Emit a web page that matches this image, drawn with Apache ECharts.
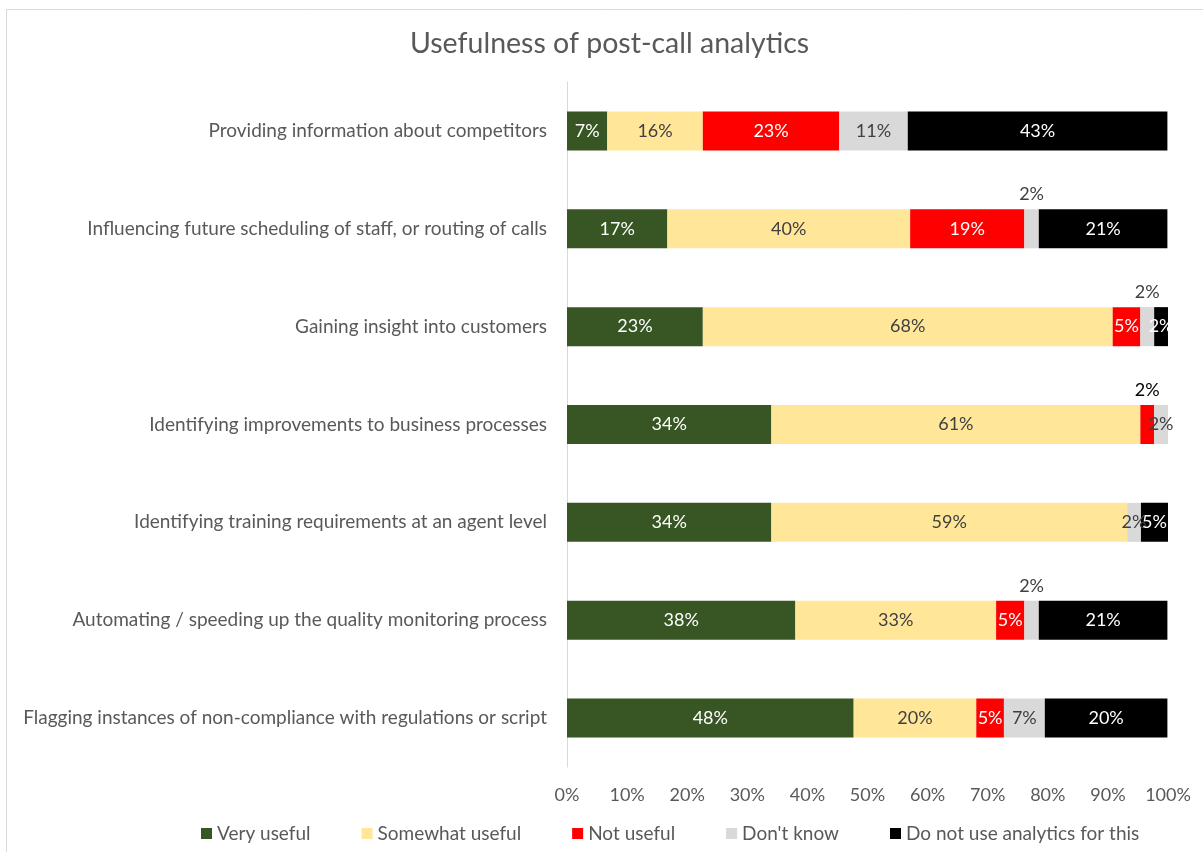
<!DOCTYPE html>
<html>
<head>
<meta charset="utf-8">
<script src="https://cdn.jsdelivr.net/npm/echarts@6/dist/echarts.min.js"></script>
<style>
  html, body { margin: 0; padding: 0; background: #fff; }
  #chart { width: 1203px; height: 852px; }
</style>
</head>
<body>
<div id="chart"></div>
<script>
var categories = [
  'Providing information about competitors',
  'Influencing future scheduling of staff, or routing of calls',
  'Gaining insight into customers',
  'Identifying improvements to business processes',
  'Identifying training requirements at an agent level',
  'Automating / speeding up the quality monitoring process',
  'Flagging instances of non-compliance with regulations or script'
]
var seriesNames = ['Very useful', 'Somewhat useful', 'Not useful', "Don't know", 'Do not use analytics for this']
// percentages, one value per category (top to bottom)
var veryUseful = [6.7, 16.7, 22.6, 34.0, 34.0, 38.0, 47.7]
var somewhatUseful = [15.9, 40.4, 68.2, 61.4, 59.2, 33.4, 20.4]
var notUseful = [22.7, 19.0, 4.6, 2.3, 0, 4.7, 4.6]
var dontKnow = [11.4, 2.4, 2.3, 2.3, 2.3, 2.4, 6.8]
var notUsed = [43.2, 21.4, 2.3, 0, 4.5, 21.4, 20.4]
var tickValues = [0, 10, 20, 30, 40, 50, 60, 70, 80, 90, 100]

var FONT = 'Lato, "Open Sans", sans-serif'
var colors = ['#375623', '#FFE699', '#FF0000', '#D9D9D9', '#000000']
var labelColors = ['#ffffff', '#404040', '#ffffff', '#404040', '#ffffff']
var allValues = [veryUseful, somewhatUseful, notUseful, dontKnow, notUsed]

// labels that sit above the bar instead of inside: [series, row, color]
var aboveLabels = [
  [3, 1, '#404040'],
  [3, 2, '#404040'],
  [2, 3, '#000000'],
  [3, 5, '#404040']
]

function buildData(s) {
  return allValues[s].map(function (v, i) {
    var item = { value: v }
    aboveLabels.forEach(function (a) {
      if (a[0] === s && a[1] === i) {
        item.label = { position: 'top', distance: 6, color: a[2] }
      }
    })
    return item
  })
}

var series = seriesNames.map(function (name, s) {
  return {
    name: name,
    type: 'bar',
    stack: 'total',
    barWidth: 39,
    itemStyle: { color: colors[s] },
    label: {
      show: true,
      position: 'inside',
      color: labelColors[s],
      fontFamily: FONT,
      fontSize: 18,
      formatter: function (p) {
        return p.value ? Math.round(p.value) + '%' : ''
      }
    },
    data: buildData(s)
  }
})

var option = {
  animation: false,
  color: colors,
  title: {
    text: 'Usefulness of post-call analytics',
    left: 405,
    top: 24,
    textStyle: { fontFamily: FONT, fontSize: 28.5, fontWeight: 'normal', color: '#595959' }
  },
  legend: {
    top: 819,
    left: 196,
    itemWidth: 11,
    itemHeight: 11,
    itemGap: 51,
    icon: 'rect',
    textStyle: { fontFamily: FONT, fontSize: 19, color: '#595959' },
    data: seriesNames
  },
  grid: {
    left: 567,
    right: 35,
    top: 82,
    bottom: 85
  },
  xAxis: {
    type: 'value',
    min: tickValues[0],
    max: tickValues[tickValues.length - 1],
    interval: 10,
    axisLine: { show: false },
    axisTick: { show: false },
    splitLine: { show: false },
    axisLabel: {
      margin: 19,
      fontFamily: FONT,
      fontSize: 18,
      color: '#595959',
      formatter: '{value}%'
    }
  },
  yAxis: {
    type: 'category',
    inverse: true,
    data: categories,
    axisLine: { lineStyle: { color: '#d9d9d9', width: 1 } },
    axisTick: { show: false },
    axisLabel: {
      margin: 20,
      fontFamily: FONT,
      fontSize: 19,
      color: '#595959'
    }
  },
  graphic: [{
    type: 'rect',
    shape: { x: 6.5, y: 9.5, width: 1300, height: 900 },
    style: { fill: 'none', stroke: '#d9d9d9', lineWidth: 1 },
    silent: true
  }],
  series: series
}

var chart = echarts.init(document.getElementById('chart'))
chart.setOption(option)
</script>
</body>
</html>
